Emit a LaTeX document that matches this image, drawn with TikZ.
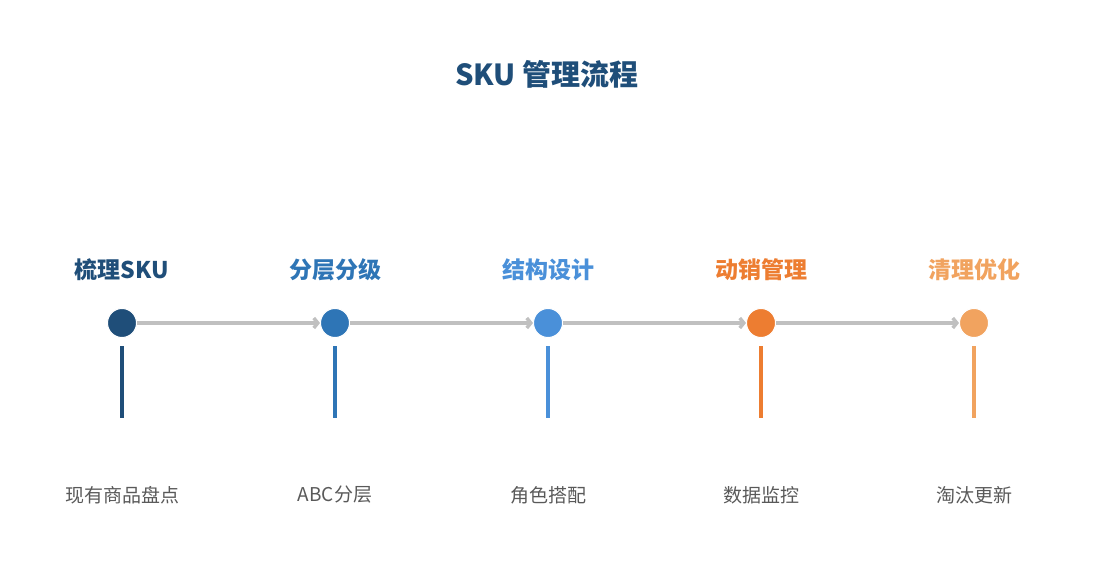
\documentclass[tikz,border=0pt]{standalone}
\usepackage{fontspec}
\setmainfont{Noto Sans CJK SC}
\usetikzlibrary{arrows.meta}

\definecolor{stepa}{HTML}{1F4E79}
\definecolor{stepb}{HTML}{2E75B6}
\definecolor{stepc}{HTML}{4A90D9}
\definecolor{stepd}{HTML}{ED7D31}
\definecolor{stepe}{HTML}{F1A35F}
\definecolor{linegray}{HTML}{C0C0C0}
\definecolor{textgray}{HTML}{595959}

\begin{document}
\begin{tikzpicture}[x=1pt,y=-1pt]

        \useasboundingbox (0,0) rectangle (1095,585);

        \node[font=\bfseries\fontsize{29}{33}\selectfont, text=stepa] (title) at (547,74) {SKU 管理流程};

        \begin{scope}[every edge/.style={draw=linegray, line width=3.5pt, -{Straight Barb[length=4pt,width=10pt]}}]
          \coordinate (p1) at (122,323);
          \coordinate (p2) at (335,323);
          \coordinate (p3) at (548,323);
          \coordinate (p4) at (761,323);
          \coordinate (p5) at (974,323);
          \path (p1) edge[shorten >=15pt] (p2);
          \path (p2) edge[shorten >=15pt] (p3);
          \path (p3) edge[shorten >=15pt] (p4);
          \path (p4) edge[shorten >=15pt] (p5);
        \end{scope}

        \begin{scope}[every node/.style={circle, minimum size=29pt, inner sep=0pt, draw=white, line width=1pt}]
          \node[fill=stepa] (1) at (p1) {};
          \node[fill=stepb] (2) at (p2) {};
          \node[fill=stepc] (3) at (p3) {};
          \node[fill=stepd] (4) at (p4) {};
          \node[fill=stepe] (5) at (p5) {};
        \end{scope}

        \begin{scope}[every node/.style={font=\bfseries\fontsize{23}{27}\selectfont}]
          \node[text=stepa] (t1) at (122,270) {梳理SKU};
          \node[text=stepb] (t2) at (335,270) {分层分级};
          \node[text=stepc] (t3) at (548,270) {结构设计};
          \node[text=stepd] (t4) at (761,270) {动销管理};
          \node[text=stepe] (t5) at (974,270) {清理优化};
        \end{scope}

        \coordinate (e1) at (122,418);
        \coordinate (e2) at (335,418);
        \coordinate (e3) at (548,418);
        \coordinate (e4) at (761,418);
        \coordinate (e5) at (974,418);

        \begin{scope}[line width=4pt]
          \draw[stepa] ([yshift=-8pt]1.south) -- (e1);
          \draw[stepb] ([yshift=-8pt]2.south) -- (e2);
          \draw[stepc] ([yshift=-8pt]3.south) -- (e3);
          \draw[stepd] ([yshift=-8pt]4.south) -- (e4);
          \draw[stepe] ([yshift=-8pt]5.south) -- (e5);
        \end{scope}

        \begin{scope}[every node/.style={font=\fontsize{19}{23}\selectfont, text=textgray}]
          \node (d1) at (122,495) {现有商品盘点};
          \node (d2) at (335,495) {ABC分层};
          \node (d3) at (548,495) {角色搭配};
          \node (d4) at (761,495) {数据监控};
          \node (d5) at (974,495) {淘汰更新};
        \end{scope}

      \end{tikzpicture}
\end{document}
